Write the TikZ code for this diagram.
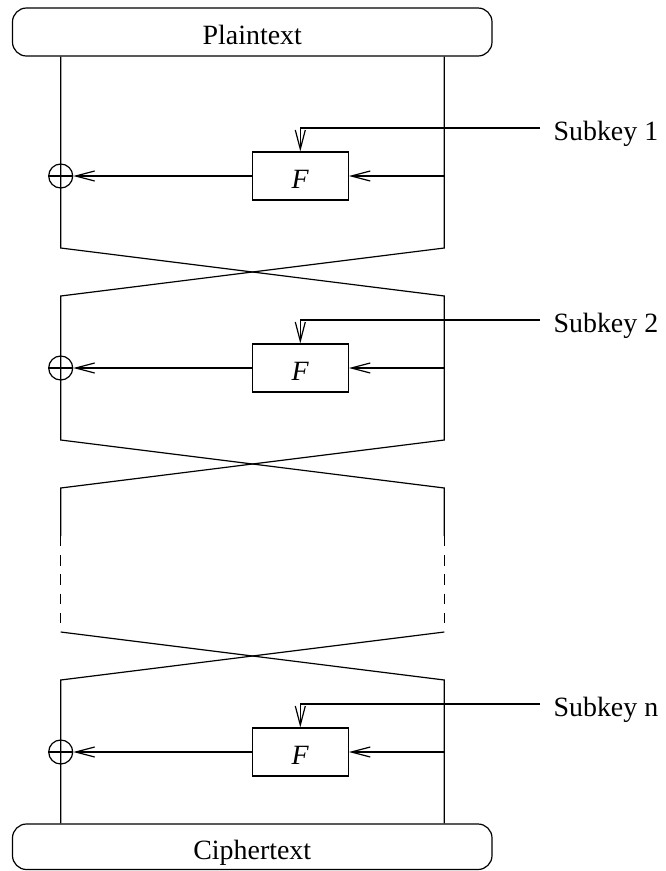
\documentclass[tikz,border=0pt]{standalone}
\usepackage{fontspec}
\setmainfont{Liberation Serif}
\usetikzlibrary{arrows.meta}

\begin{document}
\begin{tikzpicture}[x=0.5bp,y=-0.5bp,line width=0.6bp]
\tikzset{lbl/.style={font=\fontsize{14}{16}\selectfont,text height=12.3bp,text depth=0pt}}
\tikzset{block/.style={lbl,draw,rounded corners=7bp,minimum width=239.75bp,minimum height=24bp}}
\tikzset{fbox/.style={lbl,draw,minimum width=48bp,minimum height=24bp,inner sep=0pt}}
\tikzset{xor/.style={draw,circle,minimum size=12bp,inner sep=0pt,
  path picture={\draw (path picture bounding box.west) -- (path picture bounding box.east)
    (path picture bounding box.north) -- (path picture bounding box.south);}}}
\tikzset{key/.style={lbl,anchor=west,inner sep=6.5bp}}
\tikzset{feed/.style={-{Straight Barb[length=9.5bp,width=5bp]}}}
\useasboundingbox (0,0) rectangle (666,871);
\node[block] (pt) at (252.25,32) {Plaintext};
\node[block,minimum height=22.75bp] (ct) at (252.25,846.75) {Ciphertext};
\node[fbox] (f1) at (300.3,176) {\textit{F}};
\node[fbox] (f2) at (300.3,368) {\textit{F}};
\node[fbox] (fn) at (300.3,752) {\textit{F}};
\node[xor] (x1) at (60.7,176) {};
\node[xor] (x2) at (60.7,368) {};
\node[xor] (xn) at (60.7,752) {};
\coordinate (s1) at (540,128);
\coordinate (s2) at (540,320);
\coordinate (sn) at (540,704);
\node[key] (k1) at (s1) {Subkey 1};
\node[key] (k2) at (s2) {Subkey 2};
\node[key] (kn) at (sn) {Subkey n};
\coordinate (a1) at (60.7,248);
\coordinate (b1) at (444.3,248);
\coordinate (a2) at (60.7,296);
\coordinate (b2) at (444.3,296);
\coordinate (a3) at (60.7,440);
\coordinate (b3) at (444.3,440);
\coordinate (a4) at (60.7,488);
\coordinate (b4) at (444.3,488);
\coordinate (c4) at (60.7,536);
\coordinate (d4) at (444.3,536);
\coordinate (a5) at (60.7,632);
\coordinate (b5) at (444.3,632);
\coordinate (a6) at (60.7,680);
\coordinate (b6) at (444.3,680);
\draw (pt.south -| a1) -- (a1) -- (b2) -- (b3) -- (a4) -- (c4);
\draw (pt.south -| b1) -- (b1) -- (a2) -- (a3) -- (b4) -- (d4);
\draw[dash pattern=on 5.2bp off 4.4bp] (c4) -- (a5) (d4) -- (b5);
\draw (a5) -- (b6) -- (ct.north -| b6);
\draw (b5) -- (a6) -- (ct.north -| a6);
\draw[feed] (f1 -| b1) -- (f1);
\draw[feed] (f1) -- (x1);
\draw[feed] (s1) -| (f1);
\draw[feed] (f2 -| b2) -- (f2);
\draw[feed] (f2) -- (x2);
\draw[feed] (s2) -| (f2);
\draw[feed] (fn -| b6) -- (fn);
\draw[feed] (fn) -- (xn);
\draw[feed] (sn) -| (fn);
\end{tikzpicture}
\end{document}
